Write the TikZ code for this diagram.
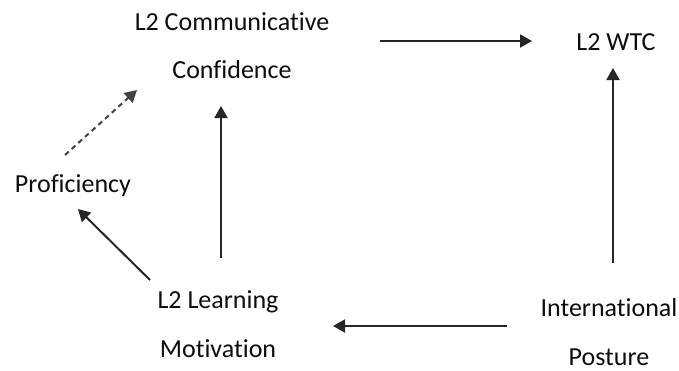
\documentclass[tikz,border=0pt]{standalone}
\usepackage{fontspec}
\setmainfont{Carlito}[Ligatures={NoCommon}]
\usetikzlibrary{arrows.meta,calc}
\begin{document}
\begin{tikzpicture}[x=0.5pt,y=-0.5pt,
  concept/.style={align=center,inner sep=0pt,text=black!95,
    font=\fontsize{13}{24}\selectfont},
  tall/.style={font=\fontsize{13}{24.5}\selectfont},
  link/.style={line width=1pt,draw=black!85,
    -{Triangle[length=6pt,width=6.5pt]}},
  hint/.style={link,draw=black!75,dash pattern=on 2.5pt off 2pt}]
  \useasboundingbox (0,0) rectangle (679,370);
  % concepts
  \node[concept] (cc)   at (232,46)  {L2 Communicative\\Confidence};
  \node[concept] (wtc)  at (616,42)  {L2 WTC};
  \node[concept] (prof) at (73,186)  {Proficiency};
  \node[concept,tall] (lm) at (218,324) {L2 Learning\\Motivation};
  \node[concept,tall] (ip) at (609,332) {International\\Posture};
  % paths between concepts
  \draw[link] ($(cc)+(148,-5)$)  -- ($(wtc)+(-84,-1)$);
  \draw[link] ($(ip)+(4,-69)$)   -- ($(wtc)+(-3,26)$);
  \draw[link] ($(ip)+(-102,-6)$) -- ($(lm)+(115,2)$);
  \draw[link] ($(lm)+(3,-66)$)   -- ($(cc)+(-11,60)$);
  \draw[link] ($(lm)+(-68,-44)$) -- ($(prof)+(5,23)$);
  \draw[hint] ($(prof)+(-8,-31)$) -- ($(cc)+(-95,44)$);
\end{tikzpicture}
\end{document}
